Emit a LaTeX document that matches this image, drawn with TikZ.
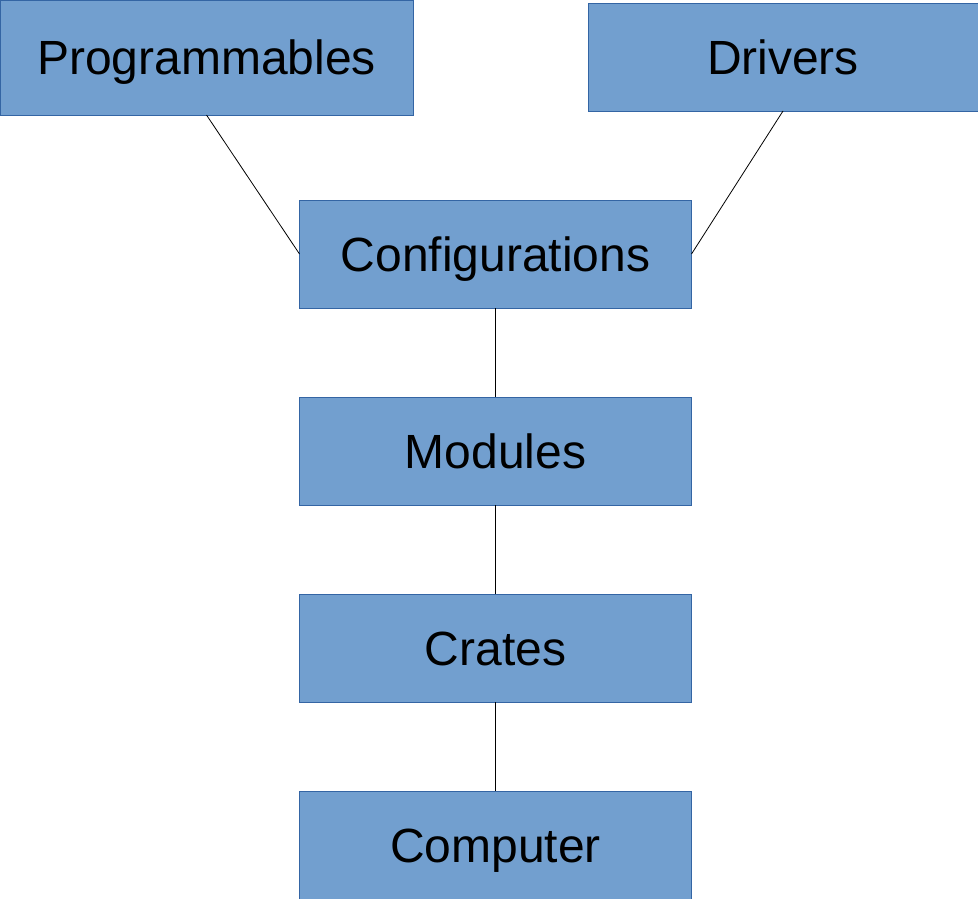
\documentclass[tikz,border=0pt]{standalone}
\usepackage{fontspec}
\setmainfont{Liberation Sans}
\usetikzlibrary{positioning}

\definecolor{boxfill}{HTML}{729FCF}
\definecolor{boxline}{HTML}{3465A4}

\tikzset{
  block/.style={draw=boxline, fill=boxfill, line width=0.9pt, outer sep=0pt,
    minimum width=392pt, minimum height=108pt, inner sep=0pt,
    text height=34.5pt, text depth=0pt,
    font=\fontsize{48}{58}\selectfont},
  link/.style={draw=black, line width=0.8pt}
}

\begin{document}
\begin{tikzpicture}[x=1pt, y=1pt, node distance=89pt]
  \useasboundingbox (0,0) rectangle (978,-899);

  \node[block] (conf) at (495.5,-254) {Configurations};
  \node[block] (mods) [below=of conf] {Modules};
  \node[block] (crates) [below=of mods] {Crates};
  \node[block] (comp) [below=of crates] {Computer};
  \node[block, minimum width=413pt, minimum height=115pt] (prog) at (206.5,-57.5) {Programmables};
  \node[block, minimum width=390pt] (drv) at (783,-57) {Drivers};

  \draw[link] (prog.south) -- (conf.west);
  \draw[link] (drv.south) -- (conf.east);
  \draw[link] (conf) -- (mods);
  \draw[link] (mods) -- (crates);
  \draw[link] (crates) -- (comp);
\end{tikzpicture}
\end{document}
